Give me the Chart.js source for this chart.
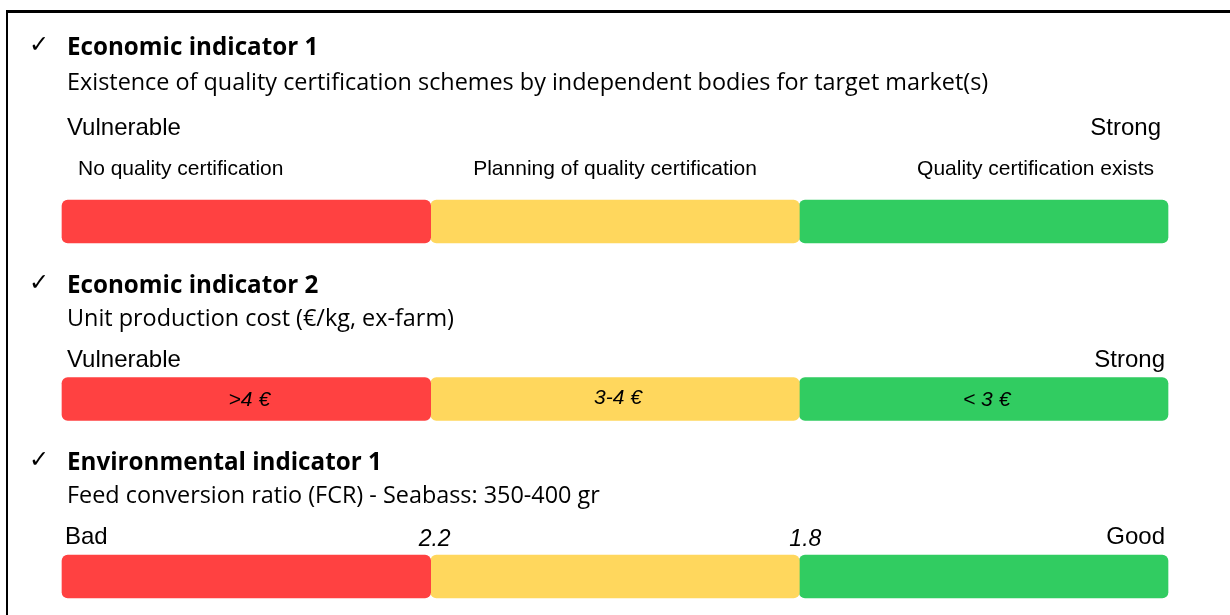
<!DOCTYPE html>
<html>
<head>
<meta charset="utf-8">
<script src="https://cdn.jsdelivr.net/npm/chart.js@4"></script>
<style>
  html, body { margin: 0; padding: 0; background: #fff; }
  #wrap { position: relative; width: 1230px; height: 615px; overflow: hidden; }
  #frame { position: absolute; left: 6px; top: 10px; width: 1240px; height: 620px;
           border-left: 2px solid #000; border-top: 3px solid #000; }
</style>
</head>
<body>
<div id="wrap">
  <div id="frame"></div>
  <canvas id="scaleChart"></canvas>
</div>
<script>
const indicators = ['Economic indicator 1', 'Economic indicator 2', 'Environmental indicator 1'];
const descriptions = [
  'Existence of quality certification schemes by independent bodies for target market(s)',
  'Unit production cost (€/kg, ex-farm)',
  'Feed conversion ratio (FCR) - Seabass: 350-400 gr'
];
const lowEnd = ['Vulnerable', 'Vulnerable', 'Bad'];
const highEnd = ['Strong', 'Strong', 'Good'];
const redBand = [1, 1, 1];
const yellowBand = [1, 1, 1];
const greenBand = [1, 1, 1];
const certLevels = ['No quality certification', 'Planning of quality certification', 'Quality certification exists'];
const costLevels = ['>4 €', '3-4 €', '< 3 €'];
const fcrThresholds = ['2.2', '1.8'];

const SANS = "'Liberation Sans', Arial, sans-serif";
const CAL = "'Open Sans', Lato, sans-serif";

// size a font so the text comes out at the width seen in the slide
function fitFont(ctx, text, style, family, width) {
  ctx.font = style + ' 100px ' + family;
  const w = ctx.measureText(text).width;
  return style + ' ' + (100 * width / w).toFixed(1) + 'px ' + family;
}

// draws all the words around the bars, placed from the bar elements
const textPlugin = {
  id: 'scaleText',
  afterDatasetsDraw(chart) {
    const ctx = chart.ctx;
    const metas = [0, 1, 2].map(d => chart.getDatasetMeta(d));
    ctx.save();
    const titleFont = fitFont(ctx, indicators[0], 'bold', CAL, 251);
    const descFont = fitFont(ctx, descriptions[0], 'normal', CAL, 921);
    ctx.fillStyle = '#000';
    indicators.forEach((name, i) => {
      const red = metas[0].data[i], yel = metas[1].data[i], grn = metas[2].data[i];
      const top = red.y - red.height / 2;
      const left = red.base, right = grn.x;
      const titleY = top - (i === 0 ? 145 : 85);

      ctx.textAlign = 'left';
      ctx.textBaseline = 'alphabetic';
      ctx.font = "24px 'DejaVu Sans'";
      ctx.fillText('✓', 29, titleY - 3);
      ctx.font = titleFont;
      ctx.fillText(name, 67, titleY);
      ctx.font = descFont;
      ctx.fillText(descriptions[i], 67, top - (i === 0 ? 110 : 52));

      ctx.font = '24px ' + SANS;
      const endY = top - (i === 0 ? 65 : 11);
      ctx.fillText(lowEnd[i], i === 2 ? 65 : 67, endY);
      ctx.textAlign = 'right';
      ctx.fillText(highEnd[i], i === 0 ? 1161 : 1165, endY);

      if (i === 0) {
        ctx.font = '21px ' + SANS;
        const y = top - 25;
        ctx.textAlign = 'left';
        ctx.fillText(certLevels[0], left + 16, y);
        ctx.textAlign = 'center';
        ctx.fillText(certLevels[1], (yel.base + yel.x) / 2, y);
        ctx.textAlign = 'right';
        ctx.fillText(certLevels[2], right - 14, y);
      }
      if (i === 1) {
        ctx.font = 'italic 21px ' + SANS;
        ctx.textAlign = 'center';
        ctx.textBaseline = 'middle';
        [red, yel, grn].forEach((b, k) => {
          ctx.fillText(costLevels[k], (b.base + b.x) / 2 + 3, b.y + (k === 1 ? -1 : 1));
        });
      }
      if (i === 2) {
        ctx.font = 'italic 23px ' + SANS;
        ctx.textAlign = 'center';
        ctx.fillText(fcrThresholds[0], red.x + 4, top - 9);
        ctx.fillText(fcrThresholds[1], yel.x + 6, top - 9);
      }
    });
    ctx.restore();
  }
};

const corners = { topLeft: 6, topRight: 6, bottomLeft: 6, bottomRight: 6 };
const bandStyle = { borderRadius: corners, borderSkipped: false, barThickness: 43, clip: false };

new Chart(document.getElementById('scaleChart').getContext('2d'), {
  type: 'bar',
  data: {
    labels: indicators,
    datasets: [
      Object.assign({ label: 'Vulnerable', data: redBand, backgroundColor: '#FF4141' }, bandStyle),
      Object.assign({ label: 'Intermediate', data: yellowBand, backgroundColor: '#FFD75D' }, bandStyle),
      Object.assign({ label: 'Strong', data: greenBand, backgroundColor: '#31CC61' }, bandStyle)
    ]
  },
  options: {
    indexAxis: 'y',
    responsive: true,
    maintainAspectRatio: false,
    animation: false,
    layout: { padding: { left: 62, right: 62, top: 221.5, bottom: 38.5 } },
    plugins: {
      legend: { display: false },
      tooltip: { enabled: false }
    },
    scales: {
      x: { stacked: true, min: 0, max: 3, display: false },
      y: { stacked: true, offset: false, display: false, grid: { offset: false } }
    }
  },
  plugins: [textPlugin]
});
</script>
</body>
</html>
